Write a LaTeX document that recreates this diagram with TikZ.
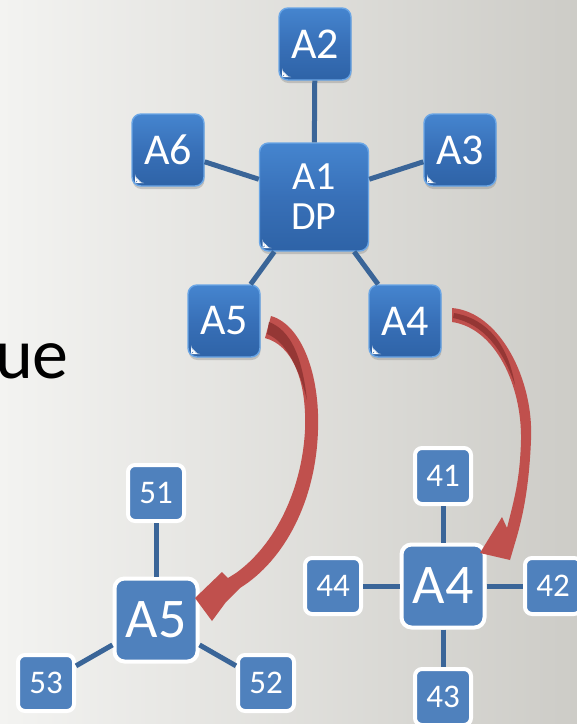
\documentclass[tikz,border=0pt]{standalone}
\usepackage{fontspec}
\setmainfont{Carlito}
\usetikzlibrary{shadows}
\definecolor{boxblue}{HTML}{4F81BD}
\definecolor{lineblue}{HTML}{3A6598}
\definecolor{glosstop}{HTML}{4585CF}
\definecolor{glossmid}{HTML}{3870B8}
\definecolor{glossbot}{HTML}{2E63A7}
\definecolor{glossedge}{HTML}{6AA6E6}
\definecolor{arrowred}{HTML}{C0504D}
\definecolor{arrowdark}{HTML}{953735}
\definecolor{bgleft}{HTML}{F3F3F1}
\definecolor{bgright}{HTML}{CDCCC7}
\begin{document}
\begin{tikzpicture}[x=1pt,y=-1pt,
  glossy/.style={rectangle, rounded corners=9pt, top color=glosstop, bottom color=glossbot,
    middle color=glossmid,
    draw=glossedge, line width=1.4pt, text=white, inner sep=0pt,
    drop shadow={shadow xshift=0.5pt, shadow yshift=-3pt, opacity=0.35},
    path picture={
      \fill[white] ([xshift=3pt,yshift=3pt]path picture bounding box.south west)
        -- ++(7pt,0pt) -- ++(-7pt,7pt) -- cycle;
    }},
  topbox/.style={glossy, minimum width=72pt, minimum height=72pt, font=\fontsize{44}{48}\selectfont},
  hubbox/.style={glossy, minimum width=109pt, minimum height=108pt, align=center,
    font=\fontsize{40}{40}\selectfont},
  flatbox/.style={rectangle, fill=boxblue, draw=white, line width=4pt, text=white, inner sep=0pt},
  smallbox/.style={flatbox, rounded corners=7pt, minimum size=56pt, font=\fontsize{33}{36}\selectfont},
  midbox/.style={flatbox, rounded corners=10pt, minimum size=83pt, font=\fontsize{56}{60}\selectfont},
  link/.style={draw=lineblue, line width=5pt},
  bigarrow/.style={fill=arrowred},
  arrowshade/.style={fill=arrowdark}
]
\useasboundingbox (0,0) rectangle (577,724);
\shade[left color=bgleft, right color=bgright] (0,0) rectangle (577,724);

\node[anchor=base west, inner sep=0pt, text=black, font=\fontsize{72}{76}\selectfont] (ue) at (-5,378) {ue};

% top star
\node[hubbox] (A1) at (314,197) {A1\\DP};
\node[topbox] (A2) at (315,44) {A2};
\node[topbox] (A6) at (168,150) {A6};
\node[topbox] (A3) at (460,150) {A3};
\node[topbox] (A5t) at (224,321) {A5};
\node[topbox] (A4t) at (405,321) {A4};
\draw[link] (A1) -- (A2);
\draw[link] (A1) -- (A6);
\draw[link] (A1) -- (A3);
\draw[link] (A1) -- (A5t);
\draw[link] (A1) -- (A4t);

% bottom left star
\node[midbox] (A5b) at (156,620) {A5};
\node[smallbox] (n51) at (156,493) {51};
\node[smallbox] (n53) at (46,683) {53};
\node[smallbox] (n52) at (266,683) {52};
\draw[link] (A5b) -- (n51);
\draw[link] (A5b) -- (n53);
\draw[link] (A5b) -- (n52);

% bottom right star
\node[midbox] (A4b) at (443,586) {A4};
\node[smallbox] (n41) at (443,476) {41};
\node[smallbox] (n44) at (333,586) {44};
\node[smallbox] (n42) at (553,586) {42};
\node[smallbox] (n43) at (443,697) {43};
\draw[link] (A4b) -- (n41);
\draw[link] (A4b) -- (n44);
\draw[link] (A4b) -- (n42);
\draw[link] (A4b) -- (n43);

% curved arrows
\fill[bigarrow] (271,316) .. controls (302,325) and (320,375) .. (318,430)
  .. controls (316,500) and (285,560) .. (240,588) -- (226,602) -- (212,621) -- (195,598)
  -- (222,572) -- (228,578) -- (236,573) .. controls (275,545) and (302,490) .. (305,430)
  .. controls (307,380) and (292,345) .. (265,338) -- cycle;
\fill[arrowshade] (269,322) .. controls (290,330) and (302,355) .. (307,400)
  .. controls (298,365) and (285,341) .. (267,334) -- cycle;

\fill[bigarrow] (452,308) .. controls (500,312) and (534,380) .. (531,440)
  .. controls (529,490) and (522,520) .. (515,543) -- (510,560) -- (480,553) -- (502,517)
  -- (507,528) .. controls (514,500) and (520,480) .. (521,440)
  .. controls (522,385) and (495,328) .. (452,322) -- cycle;
\fill[arrowshade] (454,313) .. controls (488,319) and (508,345) .. (515,385)
  .. controls (503,350) and (484,324) .. (453,318) -- cycle;
\end{tikzpicture}
\end{document}
